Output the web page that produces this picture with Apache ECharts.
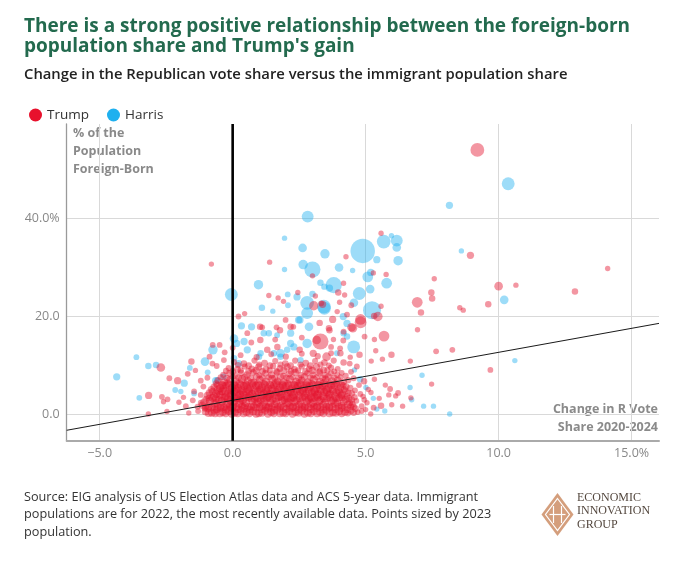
<!DOCTYPE html>
<html><head><meta charset="utf-8">
<script src="https://cdn.jsdelivr.net/npm/echarts@6/dist/echarts.min.js"></script>
<style>html,body{margin:0;padding:0;background:#fff}#c{width:676px;height:579px}</style>
</head><body><div id="c"></div>
<script>
const titleLines = ['There is a strong positive relationship between the foreign-born', "population share and Trump's gain"];
const subtitle = 'Change in the Republican vote share versus the immigrant population share';
const sourceLines = ['Source: EIG analysis of US Election Atlas data and ACS 5-year data. Immigrant', 'populations are for 2022, the most recently available data. Points sized by 2023', 'population.'];
const logoLines = ['ECONOMIC', 'INNOVATION', 'GROUP'];
const seriesNames = ['Trump', 'Harris'];
const xTicks = [-5, 0, 5, 10, 15];
const xTickLabels = ['−5.0', '0.0', '5.0', '10.0', '15.0%'];
const yTicks = [0, 20, 40];
const yTickLabels = ['0.0', '20.0', '40.0%'];
const yAxisTitle = ['% of the', 'Population', 'Foreign-Born'];
const xAxisTitle = ['Change in R Vote', 'Share 2020-2024'];
const xRange = [-6.24, 16.03];
const yRange = [-5.45, 59.2];
const trendLine = [[-6.24, -3.32], [16.03, 18.5]];
const zeroLine = [[0, -5.45], [0, 59.2]];

// [change in R vote share, % foreign-born, population (thousands)]
const harris = [
[10.36,47.0,500],[8.15,42.6,80],[2.82,40.3,400],[1.95,35.9,20],[4.89,33.3,2500],[5.68,35.2,600],
[6.17,35.4,400],[6.17,34.0,150],[5.97,36.4,20],[2.63,33.9,150],[3.47,32.7,200],[5.42,31.5,80],
[6.22,31.3,200],[2.65,30.5,200],[3.0,29.5,900],[4.0,29.9,150],[4.51,29.3,20],[1.95,29.5,20],
[5.08,28.0,300],[5.19,28.9,80],[5.79,26.7,300],[3.8,26.3,900],[3.45,26.0,50],[3.3,26.8,50],
[3.64,25.7,80],[0.97,26.4,200],[-0.05,24.4,500],[4.76,24.6,500],[5.17,25.5,150],[2.07,24.4,30],
[2.42,23.9,80],[3.0,24.5,50],[2.8,22.7,600],[3.45,21.6,500],[1.1,21.7,50],[1.51,21.0,20],
[2.08,22.2,30],[4.56,22.7,150],[5.24,21.2,1200],[10.21,23.3,150],[8.6,33.3,20],[4.16,19.9,80],
[2.48,19.2,80],[2.87,17.8,150],[0.33,18.0,80],[0.71,17.8,80],[1.17,16.5,50],[1.67,16.1,30],
[2.18,16.5,80],[2.53,19.2,80],[2.8,20.6,400],[3.43,21.9,600],[2.8,14.4,200],[2.3,13.7,80],
[2.05,13.1,50],[1.55,12.4,50],[1.05,12.4,50],[0.55,13.1,80],[0.15,14.4,80],[4.3,18.5,80],
[4.55,13.7,500],[3.92,12.4,30],[4.17,16.5,50],[1.8,11.7,50],[2.55,11.0,50],[-0.74,13.1,200],
[-1.04,10.7,150],[-0.58,6.9,50],[0.05,15.4,150],[0.05,11.4,50],[-4.36,7.6,80],[-3.62,11.6,30],
[-3.17,9.8,50],[-2.88,10.0,50],[-3.51,3.3,30],[-1.82,6.3,80],[-2.16,4.9,30],[-1.61,9.4,30],
[-0.64,6.8,80],[-0.94,8.5,30],[-1.95,4.6,20],[-1.45,4.2,30],[-0.35,7.6,50],[0.22,10.3,80],
[0.99,11.7,50],[0.43,14.8,80],[1.36,16.5,50],[1.8,12.4,150],[2.18,14.4,80],[4.3,15.8,50],
[10.61,10.9,20],[7.12,7.9,20],[6.67,5.4,20],[6.73,2.9,20],[7.18,1.6,20],[7.55,1.6,20],
[8.16,0.0,20],[5.42,1.0,20],[5.29,3.2,20],[5.72,0.6,20],[4.58,9.0,20],[4.79,7.1,50],[5.01,5.4,20]
];

const trump = [
[9.2,53.9,600],[-0.8,30.6,20],[1.39,31.0,20],[4.26,32.1,20],[5.58,36.9,20],[3.0,28.2,20],
[5.29,28.8,20],[5.77,28.5,20],[8.94,32.4,80],[14.1,29.7,20],[7.58,27.6,20],[10.65,26.3,20],
[10.0,26.1,150],[12.87,25.0,50],[7.47,24.8,50],[7.5,23.6,50],[6.94,22.8,300],[7.08,20.7,50],
[9.61,22.4,50],[8.54,21.7,20],[8.67,21.2,20],[2.45,24.8,20],[1.36,24.2,20],[1.71,23.7,20],
[1.91,23.0,20],[3.11,24.1,20],[3.97,24.8,50],[4.17,26.7,20],[4.21,24.3,20],[4.02,22.8,20],
[3.93,20.9,20],[3.05,22.1,200],[3.33,22.6,30],[4.46,22.2,30],[5.58,22.0,20],[4.3,20.3,30],
[0.22,19.9,30],[0.45,20.5,20],[5.46,19.9,200],[4.81,19.3,300],[5.69,15.9,300],[6.95,17.2,20],
[7.65,12.8,30],[8.26,13.1,30],[9.69,9.0,30],[7.48,6.1,20],[6.68,10.8,20],[5.97,12.1,50],
[5.63,11.2,20],[5.21,10.8,20],[5.33,15.2,20],[4.96,15.8,30],[5.38,12.9,20],[4.81,18.7,400],
[4.52,17.5,150],[4.77,12.1,50],[5.32,20.0,50],[3.3,14.8,900],[3.76,19.3,80],[3.38,22.4,80],
[4.17,16.8,30],[4.16,15.0,30],[3.64,17.1,50],[3.79,15.2,20],[4.04,13.4,30],[4.17,10.5,50],
[4.42,11.6,20],[4.94,6.7,50],[5.33,7.1,20],[5.74,5.9,20],[5.92,5.1,30],[6.22,4.3,30],
[5.87,3.9,20],[6.13,3.7,20],[6.39,1.6,20],[5.98,1.9,20],[5.58,1.7,50],[5.51,3.2,20],
[5.19,0.0,20],[6.7,3.3,20],[3.27,18.6,50],[1.99,19.2,30],[1.65,17.7,30],[1.11,17.7,30],
[2.18,17.8,50],[3.62,17.5,50],[4.47,17.7,150],[1.03,17.8,50],[1.78,17.1,50],[2.28,17.8,30],
[3.16,15.1,150],[4.05,12.4,50],[1.3,13.1,50],[0.55,16.5,30],[1.04,15.1,50],[1.68,13.7,50],
[2.52,13.1,50],[3.03,12.4,80],[3.53,11.7,150],[4.4,10.3,30],[4.67,9.7,30],
[-2.7,9.5,150],[-3.16,3.8,80],[-2.07,6.8,80],[-2.38,7.3,30],[-1.55,10.7,50],[-1.69,8.2,30],
[-2.66,3.5,30],[-2.45,3.0,30],[-2.6,2.5,20],[-2.02,2.4,20],[-2.47,0.5,20],[-3.17,0.0,20],
[-1.65,0.2,20],[-0.75,14.1,30],[-0.49,14.1,30],[-0.87,11.7,30],[-0.76,10.3,30],[-0.33,11.0,30],
[-1.2,6.8,30],[-1.45,4.6,30],[-1.2,3.9,30],[-1.76,1.6,30],[-1.32,1.5,30],
[-1.3,0.6,30],[-1.5,2.8,30],[-1.1,5.6,30],[-0.95,7.4,30],[-1.4,8.9,20],[-1.85,3.4,20],
[-0.6,9.8,30],[-0.3,12.6,30],[0.0,13.5,30],[0.7,14.6,30],[1.6,15.2,30],[2.6,15.6,30],[3.7,13.7,30],
[4.7,0.4,30],[4.85,1.6,30],[4.65,2.7,30],[4.9,3.6,20],[4.6,4.8,30],[4.75,5.9,30],[5.05,2.3,20],
[5.2,4.4,20],[4.55,7.3,30],[5.0,0.9,20],[4.45,8.6,30],
[4.55,0.3,60],[4.62,1.1,60],[4.5,2.0,60],[4.58,3.4,50],[4.48,4.2,50],[4.42,5.3,50],[4.85,0.6,30],
[4.95,2.9,30],[4.8,4.1,30],[5.3,1.3,30],[5.1,5.0,20],[4.35,6.9,40],[4.25,7.8,40],[-1.05,1.1,40],[-1.2,2.3,30]
];

// dense core of small and mid-sized counties
const trumpCore = [
[-1.02,0.5,100],[-0.78,0.3,130],[-0.6,0.9,100],[-0.37,0.4,130],[-0.15,0.7,160],[0.08,0.3,130],[0.31,0.8,100],[0.52,0.4,130],[0.77,0.6,160],[0.98,0.2,130],[1.22,0.7,100],[1.45,0.4,130],[1.66,0.9,160],[1.9,0.3,130],[2.12,0.6,100],[2.37,0.4,130],[2.6,0.8,160],[2.83,0.3,130],[3.05,0.6,100],[3.3,0.4,130],[3.52,0.8,130],[3.77,0.3,100],[4.0,0.6,130],[4.22,0.4,100],[4.45,0.7,80],
[-1.15,1.8,80],[-0.9,1.6,130],[-0.68,2.1,100],[-0.45,1.5,130],[-0.22,1.9,160],[0.02,1.6,130],[0.24,2.2,160],[0.46,1.7,130],[0.7,1.5,100],[0.9,2.1,130],[1.13,1.7,160],[1.36,1.5,130],[1.58,2.0,100],[1.8,1.6,130],[2.03,2.2,160],[2.27,1.5,130],[2.5,1.9,100],[2.72,1.6,130],[2.95,2.1,160],[3.18,1.6,130],[3.4,1.9,100],[3.63,1.5,130],[3.86,2.1,130],[4.1,1.7,100],[4.33,1.9,100],[4.55,1.5,60],
[-1.0,3.0,80],[-0.75,3.3,130],[-0.52,2.9,100],[-0.3,3.4,130],[-0.08,2.8,160],[0.15,3.2,130],[0.38,2.9,160],[0.6,3.4,130],[0.83,3.0,100],[1.05,2.8,130],[1.28,3.3,160],[1.5,3.0,130],[1.73,3.4,100],[1.95,2.9,130],[2.18,3.2,160],[2.4,2.8,130],[2.63,3.3,100],[2.86,3.0,130],[3.08,3.4,160],[3.3,2.9,130],[3.55,3.2,100],[3.78,2.8,130],[4.0,3.3,100],[4.25,3.0,100],[4.48,2.9,60],
[-0.88,4.3,80],[-0.62,4.1,130],[-0.4,4.6,100],[-0.17,4.2,130],[0.05,4.5,160],[0.28,4.0,130],[0.5,4.4,160],[0.73,4.1,130],[0.95,4.6,100],[1.18,4.2,130],[1.4,4.0,160],[1.62,4.5,130],[1.85,4.1,100],[2.08,4.4,130],[2.3,4.0,160],[2.53,4.6,130],[2.76,4.2,100],[2.98,4.4,130],[3.2,4.0,160],[3.44,4.5,130],[3.66,4.1,100],[3.9,4.4,130],[4.12,4.0,100],[4.35,4.3,60],
[-0.7,5.5,80],[-0.47,5.3,130],[-0.25,5.8,100],[-0.02,5.4,130],[0.2,5.2,160],[0.42,5.7,130],[0.65,5.3,100],[0.88,5.8,130],[1.1,5.4,160],[1.33,5.2,130],[1.55,5.9,100],[1.78,5.4,130],[2.0,5.6,160],[2.22,5.2,130],[2.45,5.8,100],[2.68,5.3,130],[2.9,5.6,160],[3.14,5.2,130],[3.37,5.7,100],[3.6,5.3,130],[3.82,5.8,100],[4.05,5.4,100],[4.27,5.6,60],
[-0.55,6.8,60],[-0.32,6.5,100],[-0.1,7.0,80],[0.12,6.6,100],[0.35,7.1,130],[0.57,6.7,100],[0.8,6.5,80],[1.02,7.0,100],[1.25,6.6,130],[1.48,7.2,100],[1.7,6.7,80],[1.92,6.5,100],[2.15,7.1,130],[2.38,6.6,100],[2.6,6.9,80],[2.82,6.5,100],[3.05,7.0,130],[3.28,6.6,100],[3.5,7.1,80],[3.73,6.7,100],[3.95,6.9,80],[4.18,6.6,50],
[-0.35,8.0,40],[-0.12,8.3,60],[0.1,7.9,40],[0.32,8.4,60],[0.55,8.0,80],[0.78,8.5,60],[1.0,7.9,40],[1.23,8.3,60],[1.46,8.0,80],[1.68,8.5,60],[1.9,7.8,40],[2.12,8.2,60],[2.35,8.5,80],[2.57,7.9,60],[2.8,8.3,40],[3.02,8.0,60],[3.25,8.4,80],[3.48,7.9,60],[3.7,8.3,40],[3.93,8.0,40],[4.1,8.4,30],
[-0.15,9.4,40],[0.18,9.1,60],[0.45,9.7,40],[0.72,9.2,60],[0.98,9.6,80],[1.25,9.1,60],[1.52,9.8,40],[1.78,9.3,60],[2.05,9.6,80],[2.32,9.1,60],[2.6,9.7,40],[2.88,9.2,60],[3.15,9.6,80],[3.42,9.0,60],[3.7,9.5,40],[3.95,9.2,30],
[0.05,10.6,40],[0.42,10.3,60],[0.82,10.9,40],[1.2,10.4,60],[1.6,10.8,40],[1.98,10.3,60],[2.35,10.9,40],[2.75,10.4,60],[3.1,10.8,40],[3.45,10.5,60],[3.8,10.9,40],
[0.3,12.0,30],[0.9,11.6,40],[1.45,12.2,30],[2.0,11.7,40],[2.6,12.3,30],[3.2,11.8,40],[3.7,12.4,30]
];
const trumpCore2 = [
[-0.92,1.1,100],[-0.68,0.8,130],[-0.45,1.2,100],[-0.25,0.9,130],[-0.03,1.3,160],[0.2,1.0,130],[0.42,1.2,160],[0.64,0.9,130],[0.87,1.3,100],[1.1,1.0,130],[1.33,1.2,160],[1.56,0.8,130],[1.78,1.2,100],[2.01,1.0,130],[2.24,1.3,160],[2.48,0.9,130],[2.71,1.2,100],[2.94,1.0,130],[3.16,1.3,160],[3.4,0.9,130],[3.64,1.2,100],[3.87,1.0,130],[4.1,1.2,100],[4.32,0.9,80],
[-1.08,2.4,80],[-0.85,2.6,130],[-0.62,2.3,100],[-0.4,2.6,130],[-0.18,2.3,160],[0.05,2.5,130],[0.27,2.7,160],[0.5,2.3,130],[0.73,2.6,100],[0.96,2.4,130],[1.19,2.6,160],[1.42,2.3,130],[1.64,2.5,100],[1.87,2.7,130],[2.1,2.3,160],[2.33,2.5,130],[2.56,2.4,100],[2.79,2.6,130],[3.02,2.3,160],[3.25,2.6,130],[3.48,2.4,100],[3.71,2.6,130],[3.94,2.3,100],[4.17,2.5,100],[4.4,2.3,60],
[-0.95,3.8,80],[-0.7,3.6,130],[-0.48,3.9,100],[-0.26,3.6,130],[-0.04,3.8,160],[0.19,3.6,130],[0.42,3.9,160],[0.64,3.7,130],[0.88,3.5,100],[1.1,3.8,130],[1.33,3.6,160],[1.56,3.9,130],[1.8,3.6,100],[2.02,3.8,130],[2.25,3.5,160],[2.48,3.8,130],[2.7,3.7,100],[2.93,3.5,130],[3.17,3.8,160],[3.4,3.6,130],[3.62,3.9,100],[3.85,3.6,130],[4.08,3.8,100],[4.3,3.6,60],
[-0.8,5.0,80],[-0.57,4.8,130],[-0.35,5.1,100],[-0.12,4.9,130],[0.1,5.0,160],[0.33,4.8,130],[0.56,5.1,160],[0.79,4.9,130],[1.02,5.0,100],[1.25,4.8,130],[1.47,5.1,160],[1.7,4.9,130],[1.93,5.0,100],[2.16,4.8,130],[2.39,5.1,160],[2.61,4.9,130],[2.84,5.0,100],[3.07,4.8,130],[3.3,5.1,160],[3.52,4.9,130],[3.75,5.0,100],[3.98,4.8,100],[4.2,5.0,60],
[-0.62,6.2,60],[-0.4,6.0,100],[-0.18,6.3,80],[0.05,6.1,100],[0.27,6.2,130],[0.5,6.0,100],[0.72,6.3,130],[0.95,6.1,100],[1.18,6.2,80],[1.4,6.0,100],[1.63,6.3,130],[1.86,6.1,100],[2.08,6.2,80],[2.3,6.0,100],[2.53,6.3,130],[2.76,6.1,100],[2.98,6.2,80],[3.21,6.0,100],[3.44,6.3,130],[3.66,6.1,100],[3.89,6.2,80],[4.1,6.0,50],
[-0.45,7.5,40],[-0.22,7.3,60],[0.0,7.6,40],[0.22,7.4,60],[0.45,7.5,80],[0.68,7.3,60],[0.9,7.6,80],[1.13,7.4,60],[1.36,7.5,40],[1.58,7.3,60],[1.8,7.6,80],[2.03,7.4,60],[2.26,7.5,40],[2.48,7.3,60],[2.7,7.6,80],[2.93,7.4,60],[3.16,7.5,40],[3.38,7.3,60],[3.6,7.6,80],[3.83,7.4,40],[4.05,7.5,30],
[-0.25,8.8,40],[0.0,8.7,60],[0.3,8.9,40],[0.6,8.7,60],[0.88,8.9,80],[1.12,8.7,60],[1.4,8.9,40],[1.65,8.7,60],[1.92,8.9,80],[2.2,8.7,60],[2.46,8.9,40],[2.74,8.7,60],[3.0,8.9,80],[3.28,8.7,60],[3.56,8.9,40],[3.82,8.7,30],
[0.2,10.0,40],[0.6,9.9,60],[1.0,10.1,40],[1.4,9.9,60],[1.8,10.1,40],[2.18,9.9,60],[2.55,10.1,40],[2.92,9.9,60],[3.3,10.1,40],[3.62,9.9,30]
];
const trumpCore3 = [
[-0.9,0.15,100],[-0.66,0.2,130],[-0.48,0.1,100],[-0.26,0.2,130],[-0.04,0.1,130],[0.19,0.2,130],[0.41,0.1,100],[0.63,0.2,130],[0.88,0.1,130],[1.1,0.2,100],[1.33,0.1,130],[1.55,0.2,130],[1.78,0.1,100],[2.0,0.2,130],[2.25,0.1,130],[2.48,0.2,100],[2.7,0.1,130],[2.94,0.2,130],[3.18,0.1,100],[3.41,0.2,130],[3.64,0.1,100],[3.88,0.2,100],[4.1,0.1,80],[4.33,0.2,60],
[-1.02,1.45,80],[-0.78,1.4,100],[-0.56,1.5,130],[-0.33,1.4,100],[-0.1,1.5,130],[0.13,1.4,130],[0.35,1.5,100],[0.58,1.4,130],[0.8,1.5,130],[1.02,1.4,100],[1.25,1.5,130],[1.47,1.4,130],[1.7,1.5,100],[1.92,1.4,130],[2.15,1.5,130],[2.38,1.4,100],[2.61,1.5,130],[2.84,1.4,130],[3.06,1.5,100],[3.29,1.4,130],[3.52,1.5,100],[3.75,1.4,130],[3.98,1.5,100],[4.21,1.4,80],[4.44,1.5,60],
[-0.88,3.25,80],[-0.63,3.2,100],[-0.41,3.3,130],[-0.19,3.2,100],[0.04,3.3,130],[0.27,3.2,130],[0.49,3.3,100],[0.72,3.2,130],[0.94,3.3,130],[1.17,3.2,100],[1.39,3.3,130],[1.62,3.2,130],[1.84,3.3,100],[2.07,3.2,130],[2.29,3.3,130],[2.52,3.2,100],[2.75,3.3,130],[2.97,3.2,130],[3.2,3.3,100],[3.43,3.2,130],[3.66,3.3,100],[3.9,3.2,100],[4.12,3.3,80],[4.37,3.2,60],
[-0.75,4.6,80],[-0.5,4.55,100],[-0.28,4.65,130],[-0.06,4.55,100],[0.17,4.65,130],[0.39,4.55,130],[0.62,4.65,100],[0.84,4.55,130],[1.07,4.65,130],[1.29,4.55,100],[1.51,4.65,130],[1.74,4.55,130],[1.96,4.65,100],[2.19,4.55,130],[2.42,4.65,130],[2.65,4.55,100],[2.87,4.65,130],[3.09,4.55,130],[3.32,4.65,100],[3.55,4.55,130],[3.78,4.65,100],[4.01,4.55,80],[4.24,4.65,60],
[-0.58,5.9,60],[-0.36,5.85,80],[-0.14,5.95,100],[0.09,5.85,80],[0.31,5.95,100],[0.54,5.85,100],[0.76,5.95,80],[0.99,5.85,100],[1.21,5.95,100],[1.44,5.85,80],[1.66,5.95,100],[1.89,5.85,100],[2.11,5.95,80],[2.34,5.85,100],[2.56,5.95,100],[2.79,5.85,80],[3.02,5.95,100],[3.25,5.85,100],[3.48,5.95,80],[3.71,5.85,100],[3.94,5.95,60],[4.16,5.85,50]
];

const FONT = "'Open Sans', 'Noto Sans', sans-serif";
const sizeOf = d => Math.max(5, 3.5 + 0.42 * Math.sqrt(d[2]));
const chart = echarts.init(document.getElementById('c'), null, {renderer: 'canvas'});

const textEl = (t, x, y, o) => ({type: 'text', x, y, silent: true, style: Object.assign({text: t, fontFamily: FONT, verticalAlign: 'middle'}, o)});
const graphics = [];
titleLines.forEach((t, i) => graphics.push(textEl(t, 24, 27 + i * 20, {fontSize: 19, fontWeight: 'bold', fill: '#236a4e'})));
graphics.push(textEl(subtitle, 24, 75, {fontSize: 14.8, fontWeight: 600, fill: '#222'}));
yAxisTitle.forEach((t, i) => graphics.push(textEl(t, 73, 133 + i * 18.3, {fontSize: 12.5, fontWeight: 'bold', fill: '#8a8a8a'})));
xAxisTitle.forEach((t, i) => graphics.push(textEl(t, 658, 409 + i * 18, {fontSize: 12.5, fontWeight: 'bold', fill: '#8a8a8a', align: 'right'})));
sourceLines.forEach((t, i) => graphics.push(textEl(t, 24, 497 + i * 17.5, {fontSize: 12.7, fill: '#333'})));
logoLines.forEach((t, i) => graphics.push(textEl(t, 577, 497.5 + i * 13.5, {fontSize: 12, fill: '#54483f', fontFamily: "'Liberation Serif', 'DejaVu Serif', serif"})));
// logo mark
graphics.push({type: 'polygon', silent: true, shape: {points: [[557.5, 493], [573.5, 514.5], [557.5, 536], [541.5, 514.5]]}, style: {fill: '#d49e7c'}});
graphics.push({type: 'polygon', silent: true, shape: {points: [[557.5, 498.5], [569.5, 514.5], [557.5, 530.5], [545.5, 514.5]]}, style: {fill: 'none', stroke: '#fff', lineWidth: 1.2}});
graphics.push({type: 'polyline', silent: true, shape: {points: [[553.5, 506], [553.5, 523]]}, style: {stroke: '#fff', lineWidth: 1.2, fill: 'none'}});
graphics.push({type: 'polyline', silent: true, shape: {points: [[561.5, 506], [561.5, 523]]}, style: {stroke: '#fff', lineWidth: 1.2, fill: 'none'}});
graphics.push({type: 'polyline', silent: true, shape: {points: [[549.5, 514.5], [565.5, 514.5]]}, style: {stroke: '#fff', lineWidth: 1.2, fill: 'none'}});

const scatterBase = {type: 'scatter', symbol: 'circle', symbolSize: sizeOf, emphasis: {disabled: true}, silent: true, large: false};

chart.setOption({
  animation: false,
  backgroundColor: '#fff',
  textStyle: {fontFamily: FONT},
  grid: {left: 66.7, right: 17, top: 124, bottom: 138.3, containLabel: false},
  legend: {
    left: 24, top: 103, icon: 'circle', itemWidth: 13, itemHeight: 13, itemGap: 18,
    textStyle: {fontSize: 13.5, color: '#333', fontFamily: FONT},
    data: [
      {name: seriesNames[0], itemStyle: {color: '#e8112d', opacity: 1}},
      {name: seriesNames[1], itemStyle: {color: '#1fb0ef', opacity: 1}}
    ]
  },
  xAxis: {
    type: 'value', min: xRange[0], max: xRange[1], splitNumber: 4,
    axisLine: {show: true, onZero: false, lineStyle: {color: '#aaa', width: 2}},
    axisTick: {show: false},
    axisLabel: {margin: 6, color: '#888', fontSize: 12.5, fontFamily: FONT, showMinLabel: false, showMaxLabel: false,
      formatter: v => { const i = xTicks.indexOf(v); return i >= 0 ? xTickLabels[i] : ''; }},
    splitLine: {show: true, showMinLine: false, showMaxLine: false, lineStyle: {color: '#d9d9d9', width: 1}}
  },
  yAxis: {
    type: 'value', min: yRange[0], max: yRange[1], splitNumber: 3,
    axisLine: {show: true, onZero: false, lineStyle: {color: '#9a9a9a', width: 1.3}},
    axisTick: {show: false},
    axisLabel: {margin: 7, color: '#888', fontSize: 12.5, fontFamily: FONT, showMinLabel: false, showMaxLabel: false,
      formatter: v => { const i = yTicks.indexOf(v); return i >= 0 ? yTickLabels[i] : ''; }},
    splitLine: {show: true, showMinLine: false, showMaxLine: false, lineStyle: {color: '#d9d9d9', width: 1}}
  },
  graphic: graphics,
  series: [
    Object.assign({}, scatterBase, {name: seriesNames[1], data: harris, z: 2, itemStyle: {color: 'rgba(31,176,239,0.55)'}}),
    Object.assign({}, scatterBase, {name: seriesNames[0], data: trumpCore.concat(trumpCore2, trumpCore3, trump), z: 3, itemStyle: {color: 'rgba(229,20,46,0.56)'}}),
    {type: 'line', data: trendLine, symbol: 'none', silent: true, z: 5, lineStyle: {color: '#1a1a1a', width: 1}},
    {type: 'line', data: zeroLine, symbol: 'none', silent: true, z: 6, lineStyle: {color: '#000', width: 2.6}}
  ]
});
</script></body></html>
